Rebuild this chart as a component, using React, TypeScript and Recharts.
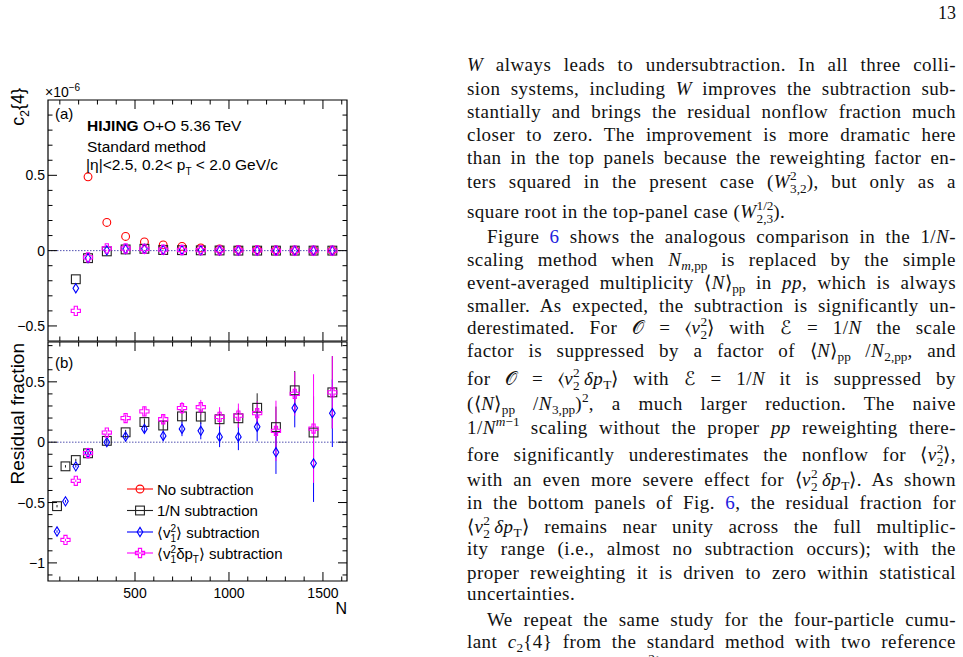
import React from 'react';
import { ScatterChart, Scatter, XAxis, YAxis, ErrorBar, ReferenceLine, ReferenceArea } from 'recharts';

// multiplicity bins (N)
const nBins = [85, 130, 185, 250, 350, 450, 550, 650, 750, 850, 950, 1050, 1150, 1250, 1350, 1450, 1550];

// panel (a): c2{4}, in units of 1e-6
const noSubA = [null, null, null, 0.49, 0.187, 0.094, 0.058, 0.038, 0.028, 0.018, 0.011, 0.008, 0.006, 0.004, 0.003, 0.002, 0.002];
const invNA = [null, null, -0.19, -0.05, -0.005, 0.008, 0.012, 0.004, 0.003, 0.002, 0.001, 0, 0, 0, 0, 0, 0];
const v1A = [null, null, -0.25, -0.05, 0.002, 0.01, 0.012, 0.005, 0.004, 0.002, 0.001, 0.001, 0, 0, 0, 0, 0];
const v1dptA = [null, null, -0.4, -0.045, 0.015, 0.014, 0.012, 0.006, 0.004, 0.003, 0.002, 0.001, 0.001, 0, 0, 0, 0];

// panel (b): residual fraction
const invNB = [-0.53, -0.2, -0.148, -0.092, 0.011, 0.082, 0.167, 0.138, 0.214, 0.212, 0.19, 0.198, 0.285, 0.125, 0.43, 0.08, 0.413];
const invNBErr = [0.01, 0.01, 0.01, 0.01, 0.015, 0.02, 0.03, 0.04, 0.05, 0.06, 0.07, 0.08, 0.12, 0.17, 0.16, 0.3, 0.3];
const v1B = [-0.74, -0.49, -0.2, -0.09, 0.0, 0.047, 0.11, 0.052, 0.11, 0.094, 0.044, 0.044, 0.128, -0.083, 0.283, -0.175, 0.24];
const v1BErr = [0.01, 0.01, 0.01, 0.015, 0.02, 0.02, 0.03, 0.045, 0.06, 0.07, 0.085, 0.11, 0.12, 0.18, 0.16, 0.32, 0.28];
const v1dptB = [null, -0.81, -0.32, -0.09, 0.08, 0.2, 0.255, 0.19, 0.283, 0.29, 0.21, 0.22, 0.24, 0.094, 0.4, 0.113, 0.413];
const v1dptBErr = [0, 0.01, 0.01, 0.015, 0.02, 0.03, 0.04, 0.04, 0.05, 0.06, 0.08, 0.1, 0.1, 0.25, 0.18, 0.45, 0.3];

const xTicks = [100, 200, 300, 400, 500, 600, 700, 800, 900, 1000, 1100, 1200, 1300, 1400, 1500, 1600];
const xLabels = [500, 1000, 1500];
const yTicksA = [-0.5, -0.4, -0.3, -0.2, -0.1, 0, 0.1, 0.2, 0.3, 0.4, 0.5, 0.6, 0.7, 0.8, 0.9];
const yTicksB = [-1.1, -1, -0.9, -0.8, -0.7, -0.6, -0.5, -0.4, -0.3, -0.2, -0.1, 0, 0.1, 0.2, 0.3, 0.4, 0.5, 0.6, 0.7, 0.8];

const X_DOM: [number, number] = [37, 1628];
const Y_DOM_A: [number, number] = [-0.6, 1.0];
const Y_DOM_B: [number, number] = [-1.15, 0.83];

// frame geometry (page pixels)
const PL = 48;
const PR = 347;
const TA = 100;
const BA = 341;
const TB = 342;
const BB = 581;

const SANS = '"Liberation Sans", Arial, sans-serif';
const SERIF = '"Liberation Serif", "Times New Roman", serif';

const series = [
  { key: 'nosub', name: 'No subtraction', color: '#ff0000', kind: 'circle' },
  { key: 'invn', name: '1/N subtraction', color: '#222222', kind: 'square' },
  { key: 'v1', name: 'v1', color: '#0000ff', kind: 'diamond' },
  { key: 'v1dpt', name: 'v1dpt', color: '#ff00ff', kind: 'cross' },
];

const build = (vals: (number | null)[], errs?: number[]) =>
  nBins
    .map((n, i) => ({ n, v: vals[i], e: errs ? errs[i] : 0 }))
    .filter((d) => d.v !== null);

const Marker = ({ kind, cx, cy, color }: any) => {
  if (cx == null || cy == null) return null;
  if (kind === 'circle') return <circle cx={cx} cy={cy} r={3.9} fill="none" stroke={color} strokeWidth={1.1} />;
  if (kind === 'square') return <rect x={cx - 4.4} y={cy - 4.4} width={8.8} height={8.8} fill="none" stroke={color} strokeWidth={1.1} />;
  if (kind === 'diamond')
    return <polygon points={`${cx},${cy - 4.6} ${cx + 2.8},${cy} ${cx},${cy + 4.6} ${cx - 2.8},${cy}`} fill="none" stroke={color} strokeWidth={1.1} />;
  const a = 1.6;
  const b = 4.6;
  const pts = [
    [-a, -b], [a, -b], [a, -a], [b, -a], [b, a], [a, a], [a, b], [-a, b], [-a, a], [-b, a], [-b, -a], [-a, -a],
  ].map(([x, y]) => `${cx + x},${cy + y}`).join(' ');
  return <polygon points={pts} fill="none" stroke={color} strokeWidth={1.1} />;
};

const fmt = (v: number) => (v === 0 ? '0' : (v < 0 ? '\u2212' : '') + Math.abs(v));

const yTick = (props: any) => {
  const { y, payload } = props;
  const v = payload.value;
  const major = Math.abs(v * 2 - Math.round(v * 2)) < 1e-6;
  const len = major ? 9 : 4.5;
  return (
    <g>
      <line x1={PL} x2={PL + len} y1={y} y2={y} stroke="#000" />
      <line x1={PR - len} x2={PR} y1={y} y2={y} stroke="#000" />
      {major && (
        <text x={PL - 3} y={y} textAnchor="end" dominantBaseline="central" fontSize={14} fontFamily={SANS} fill="#000">
          {fmt(v)}
        </text>
      )}
    </g>
  );
};

const makeXTick = (top: number, bottom: number, labels: boolean) => (props: any) => {
  const { x, payload } = props;
  const v = payload.value;
  const major = v % 500 === 0;
  const len = major ? 9 : 4.5;
  return (
    <g>
      <line x1={x} x2={x} y1={bottom} y2={bottom - len} stroke="#000" />
      <line x1={x} x2={x} y1={top} y2={top + len} stroke="#000" />
      {labels && xLabels.includes(v) && (
        <text x={x} y={bottom + 17} textAnchor="middle" fontSize={14} fontFamily={SANS} fill="#000">
          {v}
        </text>
      )}
    </g>
  );
};

const PanelA = () => (
  <ScatterChart width={360} height={350} margin={{ top: TA, right: 360 - PR, bottom: 350 - BA - 1, left: PL - 1 }}>
    <XAxis type="number" dataKey="n" domain={X_DOM} allowDataOverflow ticks={xTicks} interval={0} height={1}
      axisLine={false} tickLine={false} tick={makeXTick(TA, BA, false)} />
    <YAxis type="number" dataKey="v" domain={Y_DOM_A} allowDataOverflow ticks={yTicksA} interval={0} width={1}
      axisLine={false} tickLine={false} tick={yTick} />
    <ReferenceArea x1={X_DOM[0]} x2={X_DOM[1]} y1={Y_DOM_A[0]} y2={Y_DOM_A[1]} fill="none" stroke="#000" strokeWidth={1.2} fillOpacity={0} />
    <ReferenceLine y={0} stroke="#5050b0" strokeDasharray="1.5 1.5" strokeWidth={1} />
    <Scatter data={build(noSubA)} isAnimationActive={false} shape={(p: any) => <Marker kind="circle" cx={p.cx} cy={p.cy} color={series[0].color} />} />
    <Scatter data={build(invNA)} isAnimationActive={false} shape={(p: any) => <Marker kind="square" cx={p.cx} cy={p.cy} color={series[1].color} />} />
    <Scatter data={build(v1A)} isAnimationActive={false} shape={(p: any) => <Marker kind="diamond" cx={p.cx} cy={p.cy} color={series[2].color} />} />
    <Scatter data={build(v1dptA)} isAnimationActive={false} shape={(p: any) => <Marker kind="cross" cx={p.cx} cy={p.cy} color={series[3].color} />} />
  </ScatterChart>
);

const PanelB = () => (
  <ScatterChart width={360} height={640} margin={{ top: TB, right: 360 - PR, bottom: 640 - BB - 1, left: PL - 1 }}>
    <XAxis type="number" dataKey="n" domain={X_DOM} allowDataOverflow ticks={xTicks} interval={0} height={1}
      axisLine={false} tickLine={false} tick={makeXTick(TB, BB, true)} />
    <YAxis type="number" dataKey="v" domain={Y_DOM_B} allowDataOverflow ticks={yTicksB} interval={0} width={1}
      axisLine={false} tickLine={false} tick={yTick} />
    <ReferenceArea x1={X_DOM[0]} x2={X_DOM[1]} y1={Y_DOM_B[0]} y2={Y_DOM_B[1]} fill="none" stroke="#000" strokeWidth={1.2} fillOpacity={0} />
    <ReferenceLine y={0} stroke="#5050b0" strokeDasharray="1.5 1.5" strokeWidth={1} />
    <Scatter data={build(invNB, invNBErr)} isAnimationActive={false} shape={(p: any) => <Marker kind="square" cx={p.cx} cy={p.cy} color={series[1].color} />}>
      <ErrorBar dataKey="e" direction="y" width={0} stroke="#222" strokeWidth={1} />
    </Scatter>
    <Scatter data={build(v1B, v1BErr)} isAnimationActive={false} shape={(p: any) => <Marker kind="diamond" cx={p.cx} cy={p.cy} color={series[2].color} />}>
      <ErrorBar dataKey="e" direction="y" width={0} stroke="#0000ff" strokeWidth={1} />
    </Scatter>
    <Scatter data={build(v1dptB, v1dptBErr)} isAnimationActive={false} shape={(p: any) => <Marker kind="cross" cx={p.cx} cy={p.cy} color={series[3].color} />}>
      <ErrorBar dataKey="e" direction="y" width={0} stroke="#ff00ff" strokeWidth={1} />
    </Scatter>
  </ScatterChart>
);

const legendRows = [489, 510.5, 532, 553];

const LegendLabel = ({ k }: { k: string }) => {
  if (k === 'v1')
    return (
      <>
        {'\u27E8v'}
        <tspan dy={-6} fontSize={10}>2</tspan>
        <tspan dx={-5.5} dy={10} fontSize={10}>1</tspan>
        <tspan dy={-4}>{'\u27E9 subtraction'}</tspan>
      </>
    );
  if (k === 'v1dpt')
    return (
      <>
        {'\u27E8v'}
        <tspan dy={-6} fontSize={10}>2</tspan>
        <tspan dx={-5.5} dy={10} fontSize={10}>1</tspan>
        <tspan dy={-4}>{'\u03B4p'}</tspan>
        <tspan dy={4} fontSize={10}>T</tspan>
        <tspan dy={-4}>{'\u27E9 subtraction'}</tspan>
      </>
    );
  return <>{series.find((s) => s.key === k)?.name}</>;
};

const Overlay = () => (
  <svg width={963} height={657} style={{ position: 'absolute', left: 0, top: 0 }} fontFamily={SANS}>
    {/* panel (a) annotations */}
    <text x={45} y={97} fontSize={14}>
      {'\u00D710'}
      <tspan dy={-6} fontSize={10}>{'\u22126'}</tspan>
    </text>
    <text transform="translate(24,88) rotate(-90)" textAnchor="end" fontSize={18}>
      c<tspan dy={5} fontSize={12}>2</tspan>
      <tspan dy={-5}>{'{4}'}</tspan>
    </text>
    <text x={55} y={119} fontSize={15}>(a)</text>
    <text x={87} y={131} fontSize={15.5}>
      <tspan fontWeight="bold">HIJING</tspan> O+O 5.36 TeV
    </text>
    <text x={87} y={152} fontSize={15.5}>Standard method</text>
    <text x={86} y={170} fontSize={15.5}>
      |{'\u03B7'}|&lt;2.5, 0.2&lt; p<tspan dy={5} fontSize={10}>T</tspan>
      <tspan dy={-5}> &lt; 2.0 GeV/c</tspan>
    </text>
    {/* panel (b) annotations */}
    <text x={55} y={368} fontSize={15}>(b)</text>
    <text transform="translate(24,343) rotate(-90)" textAnchor="end" fontSize={19}>Residual fraction</text>
    <text x={347} y={614} textAnchor="end" fontSize={16}>N</text>
    {series.map((s, i) => (
      <g key={s.key}>
        <line x1={127} x2={153} y1={legendRows[i]} y2={legendRows[i]} stroke={s.color} strokeWidth={1.1} />
        <Marker kind={s.kind} cx={140} cy={legendRows[i]} color={s.color} />
        <text x={157} y={legendRows[i] + 5.5} fontSize={15}>
          <LegendLabel k={s.key} />
        </text>
      </g>
    ))}
  </svg>
);

// stacked super/subscript: zero-width raised superscript followed by a lowered subscript
const SS = ({ sup, sub }: { sup: React.ReactNode; sub: React.ReactNode }) => (
  <>
    <span style={{ display: 'inline-block', width: 0, lineHeight: 0, fontSize: '0.7em', verticalAlign: '0.64em', fontStyle: 'normal', letterSpacing: 0, whiteSpace: 'nowrap' }}>
      {sup}
    </span>
    <span style={{ fontSize: '0.7em', lineHeight: 0, verticalAlign: '-0.34em', fontStyle: 'normal', letterSpacing: 0 }}>{sub}</span>
  </>
);
const Sub = ({ children }: { children: React.ReactNode }) => (
  <span style={{ fontSize: '0.7em', lineHeight: 0, verticalAlign: '-0.3em', letterSpacing: 0 }}>{children}</span>
);
const Sup = ({ children }: { children: React.ReactNode }) => (
  <span style={{ fontSize: '0.7em', lineHeight: 0, verticalAlign: '0.6em', letterSpacing: 0 }}>{children}</span>
);
const I = ({ children }: { children: React.ReactNode }) => <i>{children}</i>;
const L = '\u27E8';
const R = '\u27E9';
const FigRef = () => <span style={{ color: '#2020dd' }}>6</span>;
const v22 = (
  <>
    {L}<I>v</I><SS sup="2" sub="2" />{R}
  </>
);
const v22dpt = (
  <>
    {L}<I>v</I><SS sup="2" sub="2" /><I>{'\u2009\u03B4p'}</I><Sub>T</Sub>{R}
  </>
);
const Npp = (
  <>
    {L}<I>N</I>{R}<Sub>pp</Sub>
  </>
);

const textLines: { y: number; indent?: boolean; last?: boolean; c: React.ReactNode }[] = [
  { y: 65, c: <><I>W</I> always leads to undersubtraction. In all three colli-</> },
  { y: 89, c: <>sion systems, including <I>W</I> improves the subtraction sub-</> },
  { y: 112, c: <>stantially and brings the residual nonflow fraction much</> },
  { y: 135, c: <>closer to zero. The improvement is more dramatic here</> },
  { y: 158, c: <>than in the top panels because the reweighting factor en-</> },
  { y: 182, c: <>ters squared in the present case (<I>W</I><SS sup="2" sub="3,2" />), but only as a</> },
  { y: 212, last: true, c: <>square root in the top-panel case (<I>W</I><SS sup="1/2" sub="2,3" />).</> },
  { y: 237, indent: true, c: <>Figure <FigRef /> shows the analogous comparison in the 1/<I>N</I>-</> },
  { y: 260, c: <>scaling method when <I>N</I><Sub><I>m</I>,pp</Sub> is replaced by the simple</> },
  { y: 283, c: <>event-averaged multiplicity {Npp} in <I>pp</I>, which is always</> },
  { y: 306, c: <>smaller. As expected, the subtraction is significantly un-</> },
  { y: 328, c: <>derestimated. For {'\uD835\uDCAA'} = {v22} with {'\u2130'} = 1/<I>N</I> the scale</> },
  { y: 351, c: <>factor is suppressed by a factor of {Npp} /<I>N</I><Sub>2,pp</Sub>, and</> },
  { y: 379, c: <>for {'\uD835\uDCAA'} = {v22dpt} with {'\u2130'} = 1/<I>N</I> it is suppressed by</> },
  { y: 404, c: <>({Npp} /<I>N</I><Sub>3,pp</Sub>)<Sup>2</Sup>, a much larger reduction. The naive</> },
  { y: 428, c: <>1/<I>N</I><Sup><I>m</I>{'\u2212'}1</Sup> scaling without the proper <I>pp</I> reweighting there-</> },
  { y: 455, c: <>fore significantly underestimates the nonflow for {v22},</> },
  { y: 480, c: <>with an even more severe effect for {v22dpt}. As shown</> },
  { y: 503, c: <>in the bottom panels of Fig. <FigRef />, the residual fraction for</> },
  { y: 527, c: <>{v22dpt} remains near unity across the full multiplic-</> },
  { y: 549, c: <>ity range (i.e., almost no subtraction occurs); with the</> },
  { y: 573, c: <>proper reweighting it is driven to zero within statistical</> },
  { y: 594, last: true, c: <>uncertainties.</> },
  { y: 620, indent: true, c: <>We repeat the same study for the four-particle cumu-</> },
  { y: 642, c: <>lant <I>c</I><Sub>2</Sub>{'{4}'} from the standard method with two reference</> },
  { y: 665, c: <>observables, {'\uD835\uDCAA'} = {v22} and {'\u2130'} = 1/<I>N</I>. The results are</> },
];

const COL_L = 467;
const COL_W = 489;
const LH = 22;

export default function App() {
  return (
    <div style={{ position: 'absolute', left: 0, top: 0, width: 963, height: 657, overflow: 'hidden', background: '#fff' }}>
      <div style={{ position: 'absolute', left: 0, top: 0 }}>
        <PanelA />
      </div>
      <div style={{ position: 'absolute', left: 0, top: 0 }}>
        <PanelB />
      </div>
      <Overlay />
      <div style={{ position: 'absolute', left: 900, top: 3, width: 56, textAlign: 'right', fontFamily: SERIF, fontSize: 18, color: '#111' }}>13</div>
      {textLines.map((ln, i) => (
        <div
          key={i}
          style={{
            position: 'absolute',
            left: ln.indent ? COL_L + 20 : COL_L,
            top: ln.y - LH / 2,
            width: ln.indent ? COL_W - 20 : COL_W,
            height: LH,
            lineHeight: `${LH}px`,
            fontFamily: SERIF,
            fontSize: 19,
            letterSpacing: 0.45,
            color: '#111',
            textAlign: ln.last ? 'left' : 'justify',
            textAlignLast: ln.last ? 'left' : 'justify',
          }}
        >
          {ln.c}
        </div>
      ))}
    </div>
  );
}
